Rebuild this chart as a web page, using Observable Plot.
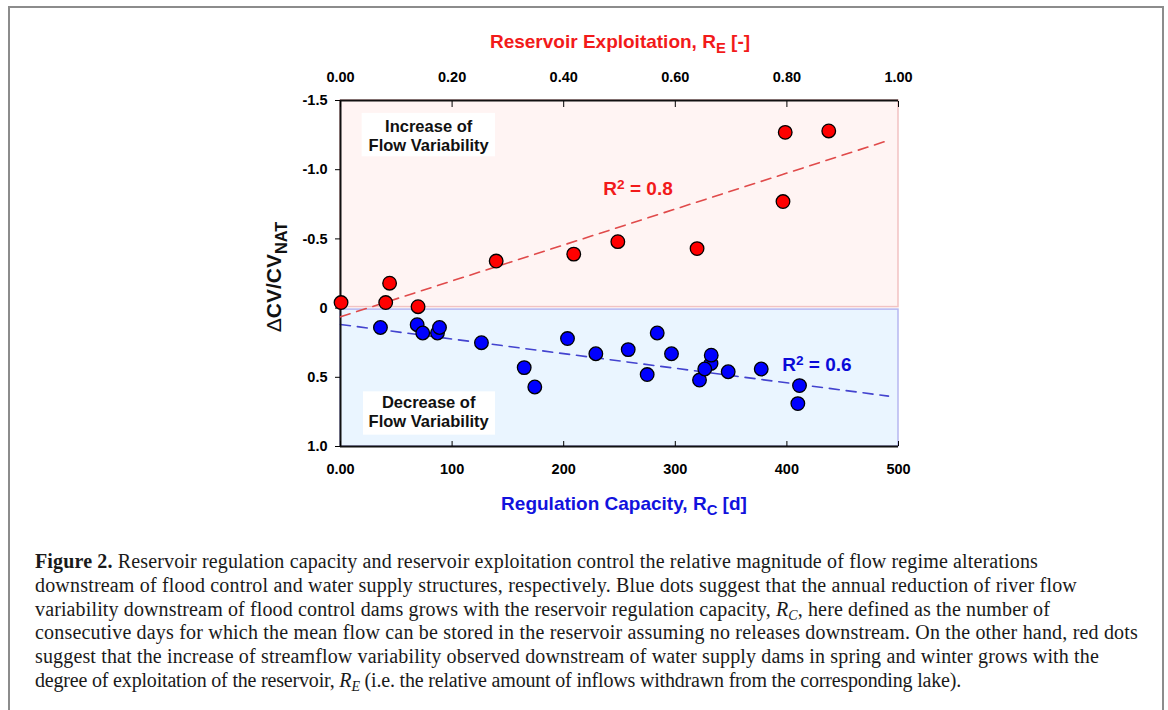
<!DOCTYPE html>
<html><head><meta charset="utf-8">
<script src="https://cdn.jsdelivr.net/npm/d3@7"></script>
<script src="https://cdn.jsdelivr.net/npm/@observablehq/plot@0.6"></script>
<style>
body{margin:0;background:#fff;}
#wrap{position:relative;width:1168px;height:710px;overflow:hidden;font-family:"Liberation Sans",Arial,sans-serif;}
#frame{position:absolute;left:8px;top:6px;width:1156px;height:760px;border:2px solid #8c8c8c;box-sizing:border-box;}
.layer{position:absolute;left:0;top:0;}
.title{position:absolute;font-weight:bold;font-size:19px;white-space:nowrap;transform:translateX(-50%);line-height:22px;}
.title sub,.ytitle sub{font-size:0.78em;vertical-align:-0.35em;line-height:0;}
.ytitle{position:absolute;left:274px;top:277px;font-weight:bold;font-size:21px;white-space:nowrap;transform:translate(-50%,-50%) rotate(-90deg);color:#111;line-height:24px;}
#caption{position:absolute;left:35px;top:550px;font-family:"Liberation Serif","Times New Roman",serif;font-size:20px;line-height:23.8px;color:#1a1a1a;}
#caption div{white-space:nowrap;display:block;width:max-content;}
#caption sub{font-size:0.7em;vertical-align:-0.3em;line-height:0;}
</style></head>
<body>
<div id="wrap">
  <div id="frame"></div>
  <div id="base" class="layer"></div>
  <div id="over" class="layer"></div>
  <div class="title" style="left:620px;top:31px;color:#f21a1a;">Reservoir Exploitation, R<sub>E</sub> [-]</div>
  <div class="title" style="left:624px;top:493px;color:#1212dd;">Regulation Capacity, R<sub>C</sub> [d]</div>
  <div class="ytitle"><span style="font-weight:normal">Δ</span>CV/CV<sub>NAT</sub></div>
  <div id="caption">
    <div><b>Figure 2.</b> Reservoir regulation capacity and reservoir exploitation control the relative magnitude of flow regime alterations</div>
    <div>downstream of flood control and water supply structures, respectively. Blue dots suggest that the annual reduction of river flow</div>
    <div>variability downstream of flood control dams grows with the reservoir regulation capacity, <i>R<sub>C</sub></i>, here defined as the number of</div>
    <div>consecutive days for which the mean flow can be stored in the reservoir assuming no releases downstream. On the other hand, red dots</div>
    <div>suggest that the increase of streamflow variability observed downstream of water supply dams in spring and winter grows with the</div>
    <div>degree of exploitation of the reservoir, <i>R<sub>E</sub></i> (i.e. the relative amount of inflows withdrawn from the corresponding lake).</div>
  </div>
</div>
<script>
// ---- data ----
const redRE  = [0.001, 0.081, 0.088, 0.139, 0.279, 0.418, 0.497, 0.639, 0.793, 0.797, 0.875];
const redDCV = [-0.04, -0.04, -0.18, -0.01, -0.34, -0.39, -0.48, -0.43, -0.77, -1.27, -1.28];
const blueRC  = [35.8, 68.7, 73.7, 86.9, 88.7, 126.3, 164.6, 174.1, 203.4, 228.8, 257.8, 283.8, 274.8, 296.6, 321.7, 332.0, 326.4, 332.2, 347.4, 377.0, 411.3, 409.8];
const blueDCV = [0.14, 0.12, 0.18, 0.18, 0.14, 0.25, 0.43, 0.57, 0.22, 0.33, 0.30, 0.18, 0.48, 0.33, 0.52, 0.40, 0.44, 0.34, 0.46, 0.44, 0.56, 0.69];
const redFitRE = [0, 0.98];
const redFitDCV = [0.063, -1.209];
const blueFitRC = [0, 491];
const blueFitDCV = [0.118, 0.636];
const yTicks = [-1.5, -1.0, -0.5, 0, 0.5, 1.0];
const yTickLabels = ["-1.5", "-1.0", "-0.5", "0", "0.5", "1.0"];
const rcTicks = [0, 100, 200, 300, 400, 500];
const rcTickLabels = ["0.00", "100", "200", "300", "400", "500"];
const reTicks = [0, 0.2, 0.4, 0.6, 0.8, 1.0];
const reTickLabels = ["0.00", "0.20", "0.40", "0.60", "0.80", "1.00"];
const regions = [
  {name: "Increase of\nFlow Variability", lo: -1.5, hi: 0},
  {name: "Decrease of\nFlow Variability", lo: 0, hi: 1.0}
];
const r2Labels = ["R2 = 0.8", "R2 = 0.6"];

const red = d3.range(redRE.length).map(i => ({x: redRE[i], y: redDCV[i]}));
const blue = d3.range(blueRC.length).map(i => ({x: blueRC[i], y: blueDCV[i]}));
const redFit = redFitRE.map((x, i) => ({x, y: redFitDCV[i]}));
const blueFit = blueFitRC.map((x, i) => ({x, y: blueFitDCV[i]}));

const common = {
  width: 1168, height: 530,
  marginLeft: 340, marginRight: 270, marginTop: 100, marginBottom: 84,
  style: {background: "transparent", fontFamily: "'Liberation Sans', Arial, sans-serif", fontSize: "14px", color: "#000", overflow: "visible"}
};
const tickFont = {fontSize: 14.5, fontWeight: "bold", fontFamily: "'Liberation Sans', Arial, sans-serif"};

const base = Plot.plot({
  ...common,
  x: {domain: [0, 500]},
  y: {domain: [-1.5, 1.0], reverse: true},
  marks: [
    Plot.rect([regions[0]], {x1: 0, x2: 500, y1: "lo", y2: "hi", fill: "#fff4f3", stroke: "#f2c2c2", strokeWidth: 1.5, insetBottom: 1}),
    Plot.rect([regions[1]], {x1: 0, x2: 500, y1: "lo", y2: "hi", fill: "#eaf5ff", stroke: "#b6b6f0", strokeWidth: 1.5, insetTop: 1.5}),
    Plot.rect([regions[0]], {x1: 19.4, x2: 138.9, y1: -1.407, y2: -1.093, fill: "white"}),
    Plot.rect([regions[1]], {x1: 20.6, x2: 138.9, y1: 0.605, y2: 0.918, fill: "white"}),
    Plot.text([regions[0]], {x: 79, y: -1.25, text: "name", fontSize: 16.5, fontWeight: "bold", fill: "#111", lineHeight: 1.2}),
    Plot.text([regions[1]], {x: 79, y: 0.744, text: "name", fontSize: 16.5, fontWeight: "bold", fill: "#111", lineHeight: 1.2}),
    Plot.line(blueFit, {x: "x", y: "y", stroke: "#4343cf", strokeWidth: 1.6, strokeDasharray: "10,7"}),
    Plot.dot(blue, {x: "x", y: "y", r: 6.8, fill: "#0000ff", stroke: "#000", strokeWidth: 1.3}),
    Plot.text([r2Labels[1]], {x: 395.8, y: 0.41, text: d => d, textAnchor: "start", fontSize: 19, fontWeight: "bold", fill: "#0a0ad8", className: "r2"}),
    Plot.ruleY([1.0], {stroke: "#111", strokeWidth: 2}),
    Plot.ruleX([0], {stroke: "#111", strokeWidth: 2}),
    Plot.axisX(rcTicks, {anchor: "bottom", tickFormat: d => rcTickLabels[rcTicks.indexOf(d)], tickSize: -5, tickPadding: 22, label: null, ...tickFont}),
    Plot.axisY(yTicks, {anchor: "left", tickFormat: d => yTickLabels[yTicks.indexOf(d)], tickSize: 5, tickPadding: 8, label: null, ...tickFont})
  ]
});
document.getElementById("base").appendChild(base);

const over = Plot.plot({
  ...common,
  x: {domain: [0, 1]},
  y: {domain: [-1.5, 1.0], reverse: true, axis: null},
  marks: [
    Plot.line(redFit, {x: "x", y: "y", stroke: "#e04a4a", strokeWidth: 1.6, strokeDasharray: "10,7"}),
    Plot.dot(red, {x: "x", y: "y", r: 6.8, fill: "#ff0000", stroke: "#000", strokeWidth: 1.3}),
    Plot.text([r2Labels[0]], {x: 0.471, y: -0.86, text: d => d, textAnchor: "start", fontSize: 19, fontWeight: "bold", fill: "#f21a1a", className: "r2"}),
    Plot.ruleY([-1.5], {stroke: "#111", strokeWidth: 2}),
    Plot.axisX(reTicks, {anchor: "top", tickFormat: d => reTickLabels[reTicks.indexOf(d)], tickSize: -6, tickPadding: 25, label: null, ...tickFont})
  ]
});
document.getElementById("over").appendChild(over);

// superscript the "2" in R² labels
d3.selectAll(".r2 text").each(function() {
  const t = d3.select(this);
  const s = t.text();
  t.text(null);
  t.append("tspan").text(s[0]);
  t.append("tspan").attr("baseline-shift", "45%").attr("font-size", "0.72em").text(s[1]);
  t.append("tspan").text(s.slice(2));
});

// fit caption lines to reference widths
const captionWidths = [1003, 1042, 1015, 1103, 1064, 926];
document.querySelectorAll("#caption div").forEach((el, i) => {
  const w = el.getBoundingClientRect().width;
  const n = el.textContent.length;
  el.style.letterSpacing = ((captionWidths[i] - w) / n) + "px";
});
</script>
</body></html>
